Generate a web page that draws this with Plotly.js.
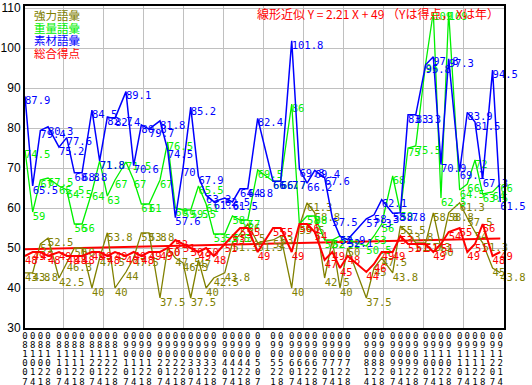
<!DOCTYPE html>
<html>
<head>
<meta charset="utf-8">
<script src="https://cdn.plot.ly/plotly-3.0.1.min.js"></script>
<style>html,body{margin:0;padding:0;background:#fff;}#chart{width:532px;height:385px;}</style>
</head>
<body>
<div id="chart"></div>
<script>
var dates = ['2008-10-07','2008-10-14','2008-10-21','2008-10-28','2008-11-07','2008-11-14','2008-11-21','2008-11-28','2008-12-07','2008-12-14','2008-12-21','2008-12-28','2009-01-07','2009-01-14','2009-01-21','2009-01-28','2009-02-07','2009-02-14','2009-02-21','2009-02-28','2009-03-07','2009-03-14','2009-03-21','2009-03-28','2009-04-07','2009-04-14','2009-04-21','2009-04-28','2009-05-07','2009-05-21','2009-05-28','2009-06-07','2009-06-14','2009-06-21','2009-06-28','2009-07-07','2009-07-14','2009-07-21','2009-07-28','2009-08-14','2009-08-21','2009-08-28','2009-09-07','2009-09-14','2009-09-21','2009-09-28','2009-10-07','2009-10-14','2009-10-21','2009-10-28','2009-11-07','2009-11-14','2009-11-21','2009-11-28','2009-12-07','2009-12-14'];
var tickLabels = ['081007','081014','081021','081028','081107','081114','081121','081128','081207','081214','081221','081228','090107','090114','090121','090128','090207','090214','090221','090228','090307','090314','090321','090328','090407','090414','090421','090428','090507','090521','090528','090607','090614','090621','090628','090707','090714','090721','090728','090814','090821','090828','090907','090914','090921','090928','091007','091014','091021','091028','091107','091114','091121','091128','091207','091214'];

var kyoryoku = [43.8,43.8,51,52.5,42.5,46.3,50,50,40,47.5,53.8,40,44,47.5,53.8,53.8,37.5,50,47.5,46.3,37.5,47,40,42.5,43.8,51.3,53.5,56,51.3,52,53,40,55.5,61.3,58.8,42.5,52,40,50,37.5,45,47.5,43.8,55.5,53.8,51.3,51.3,58.8,50,58.8,61.3,57.5,54,51.3,45,43.8];
var juryo = [74.5,59,67,67.5,65.5,64.5,56,56,64,71.8,63,67,71.5,67,61,61,67,76.5,60,59.5,59.5,65.5,61,53.5,53.5,58,57,57,69.5,66.7,66.7,86,56,58,58,52,52,53,52,50.5,53,56,68,59,75,75.5,96,109,62.5,109,64.5,66,72,63.5,64,66];
var sozai = [87.9,65.5,79.4,80.3,75.2,77.6,68.8,68.8,84.5,71.8,82.7,82.4,89.1,70.6,80.8,79.7,81.8,74.5,57.6,70,85.2,67.9,63.2,61.6,62.5,61.5,64.8,64.8,82.4,66.7,66.7,101.8,69.8,66.2,69.4,67.6,57.5,52.9,52.1,57.3,58.3,62.1,58.7,58.8,83.3,83.3,95.8,97.8,70.9,97.3,69.1,83.9,81.5,67.3,94.5,61.5];
var sogo = [48,49,49,48,49,48,48,48,49,49,48,49,48,49,48,49,49,50,52,51,50,49,50,48,51,53,55,55,49,55,55,49,56,56,54,47,49,45,48,44,46,49,49,53,51,51,51,49,51,54,55,49,51,56,48,49];
var trendValues = [49.7, 52.4];

var seriesNames = ['強力語彙','重量語彙','素材語彙','総合得点'];
var seriesColors = ['#808000','#00f000','#0000ff','#ff0000'];
var seriesData = [kyoryoku, juryo, sozai, sogo];
var seriesWidths = [1.3, 1.3, 1.5, 2];

var traces = [];
seriesData.forEach(function(vals, i){
  traces.push({
    type:'scatter', mode:'lines+text', x:dates, y:vals, xaxis:'x2', yaxis:'y',
    name:seriesNames[i], line:{color:seriesColors[i], width:seriesWidths[i]},
    text: vals.map(function(v){return String(v);}),
    textposition:'bottom right', cliponaxis:false,
    textfont:{family:'DejaVu Sans Mono', size:10.5, color:seriesColors[i]},
    hoverinfo:'skip'
  });
});
traces.push({
  type:'scatter', mode:'lines', x:[dates[0], dates[dates.length-1]], y:trendValues,
  xaxis:'x', yaxis:'y', line:{color:'#ff0000', width:2}, hoverinfo:'skip', name:'trend'
});

var xr = ['2008-10-07', '2009-12-17 10:00'];
var tickText = tickLabels.map(function(s){
  return s.split('').map(function(c){ return '<span style="font-size:9px">' + c + '</span>'; }).join('<br>');
});

var annots = [];
var legY = [0.972, 0.933, 0.894, 0.855];
seriesNames.forEach(function(n, i){
  annots.push({xref:'paper', yref:'paper', x:0.014, y:legY[i], xanchor:'left', yanchor:'middle',
    text:n, showarrow:false, font:{family:'Noto Sans CJK JP', size:11.5, color:seriesColors[i]}});
});
annots.push({xref:'paper', yref:'paper', x:0.737, y:0.978, xanchor:'center', yanchor:'middle',
  text:'線形近似 Y = 2.21 X + 49 （Yは得点， Xは年）', showarrow:false,
  font:{family:'Noto Sans CJK JP', size:12, color:'#ff0000'}});

var layout = {
  width:532, height:385,
  margin:{l:25, r:28, t:6, b:57, pad:0},
  paper_bgcolor:'#ffffff', plot_bgcolor:'#ffffff',
  showlegend:false,
  xaxis:{type:'date', range:xr, showgrid:true, gridcolor:'#c0c0c0', gridwidth:1,
    tick0:'2008-10-05 04:00', dtick:3155760000, showticklabels:false, ticks:'',
    showline:true, mirror:true, linecolor:'#000000', linewidth:2, zeroline:false},
  xaxis2:{type:'date', range:xr, overlaying:'x', anchor:'y', side:'bottom',
    tickmode:'array', tickvals:dates, ticktext:tickText, showgrid:false, ticks:'',
    tickangle:0, showline:false, zeroline:false, ticklabelstandoff:3,
    tickfont:{family:'DejaVu Sans Mono', size:7, color:'#000000'}},
  yaxis:{range:[30,110.5], dtick:10, tick0:30, showgrid:true, gridcolor:'#c0c0c0', gridwidth:1,
    ticks:'', showline:true, mirror:true, linecolor:'#000000', linewidth:2, zeroline:false,
    tickfont:{family:'Liberation Sans', size:12, color:'#000000'}},
  annotations:annots
};

Plotly.newPlot('chart', traces, layout, {displayModeBar:false, staticPlot:true});
</script>
</body>
</html>
